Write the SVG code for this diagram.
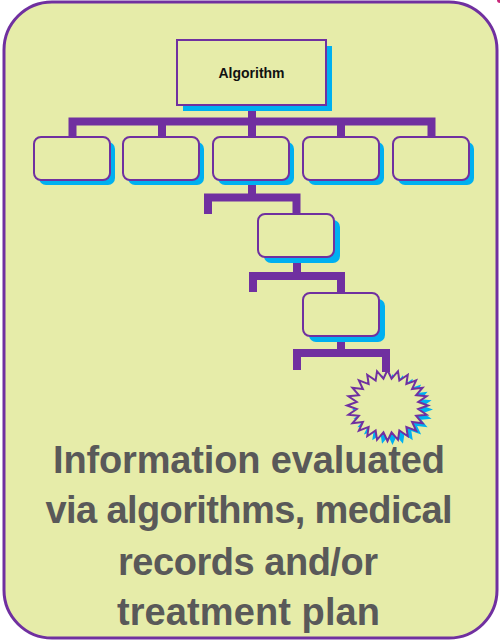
<svg xmlns="http://www.w3.org/2000/svg" xmlns:xlink="http://www.w3.org/1999/xlink" width="500" height="641" viewBox="0 0 500 641">
  <style>
    .panel { fill: #E6ECA9; stroke: #7030A0; stroke-width: 3; }
    .box { fill: #E6ECA9; stroke: #7030A0; stroke-width: 2; }
    .shadow { fill: #00B0F0; }
    .link { fill: none; stroke: #7030A0; stroke-width: 8; stroke-linejoin: miter; stroke-linecap: butt; }
    .title { font-family: "Liberation Sans", Arial, sans-serif; font-weight: bold; font-size: 14px; fill: #111111; text-anchor: middle; }
    .caption { font-family: "Liberation Sans", Arial, sans-serif; font-weight: bold; font-size: 38px; fill: #595959; text-anchor: middle; }
  </style>
  <defs>
    <rect id="leaf" x="0" y="0" width="76" height="43" rx="7" ry="7"/>
    <polygon id="burst" points="0,-35.5 4.05,-26.77 10.48,-34.29 11.86,-24.94 20.25,-30.74 18.87,-21.42 28.64,-25.1 24.59,-16.44 35.07,-17.75 28.64,-10.33 39.12,-9.19 30.73,-3.52 40.5,0 30.73,3.52 39.12,9.19 28.64,10.33 35.07,17.75 24.59,16.44 28.64,25.1 18.87,21.42 20.25,30.74 11.86,24.94 10.48,34.29 4.05,26.77 0,35.5 -4.05,26.77 -10.48,34.29 -11.86,24.94 -20.25,30.74 -18.87,21.42 -28.64,25.1 -24.59,16.44 -35.07,17.75 -28.64,10.33 -39.12,9.19 -30.73,3.52 -40.5,0 -30.73,-3.52 -39.12,-9.19 -28.64,-10.33 -35.07,-17.75 -24.59,-16.44 -28.64,-25.1 -18.87,-21.42 -20.25,-30.74 -11.86,-24.94 -10.48,-34.29 -4.05,-26.77"/>
  </defs>

  <!-- background panel -->
  <rect class="panel" x="4" y="2" width="493" height="636" rx="48" ry="48"/>
  <circle cx="500" cy="0" r="3" fill="#C8287A"/>

  <!-- connectors -->
  <g id="connectors">
    <path class="link" d="M252 105 V137"/>
    <path class="link" d="M72.5 137 V121.5 H431.5 V137"/>
    <path class="link" d="M162 121.5 V137"/>
    <path class="link" d="M341 121.5 V137"/>
    <path class="link" d="M252 180 V197.5"/>
    <path class="link" d="M208 214 V197.5 H296.5 V214"/>
    <path class="link" d="M297 258 V276"/>
    <path class="link" d="M253 292 V276 H341 V293"/>
    <path class="link" d="M341 336 V353"/>
    <path class="link" d="M297 370 V353 H386 V372"/>
  </g>

  <!-- root node -->
  <g id="algorithm">
    <rect class="shadow" x="183" y="46" width="149" height="65"/>
    <rect class="box" x="177" y="40" width="149" height="65"/>
    <text class="title" x="251.5" y="78">Algorithm</text>
  </g>

  <!-- first row -->
  <g id="leaf1">
    <use href="#leaf" class="shadow" x="39" y="142"/>
    <use href="#leaf" class="box" x="34" y="137"/>
  </g>
  <g id="leaf2">
    <use href="#leaf" class="shadow" x="128" y="142"/>
    <use href="#leaf" class="box" x="123" y="137"/>
  </g>
  <g id="leaf3">
    <use href="#leaf" class="shadow" x="218" y="142"/>
    <use href="#leaf" class="box" x="213" y="137"/>
  </g>
  <g id="leaf4">
    <use href="#leaf" class="shadow" x="308" y="142"/>
    <use href="#leaf" class="box" x="303" y="137"/>
  </g>
  <g id="leaf5">
    <use href="#leaf" class="shadow" x="398" y="142"/>
    <use href="#leaf" class="box" x="393" y="137"/>
  </g>

  <!-- descending chain -->
  <g id="step1">
    <use href="#leaf" class="shadow" x="264" y="220"/>
    <use href="#leaf" class="box" x="258" y="214"/>
  </g>
  <g id="step2">
    <use href="#leaf" class="shadow" x="309" y="299"/>
    <use href="#leaf" class="box" x="303" y="293"/>
  </g>

  <!-- outcome burst -->
  <g id="burst-node">
    <use href="#burst" class="shadow" transform="translate(392.5 409.5)"/>
    <use href="#burst" class="box" transform="translate(387.5 405.5)"/>
  </g>

  <!-- caption -->
  <g id="caption">
    <text class="caption" x="249" y="473" textLength="392">Information evaluated</text>
    <text class="caption" x="249" y="523" textLength="407">via algorithms, medical</text>
    <text class="caption" x="248" y="575" textLength="260">records and/or</text>
    <text class="caption" x="248.5" y="625" textLength="263">treatment plan</text>
  </g>
</svg>
